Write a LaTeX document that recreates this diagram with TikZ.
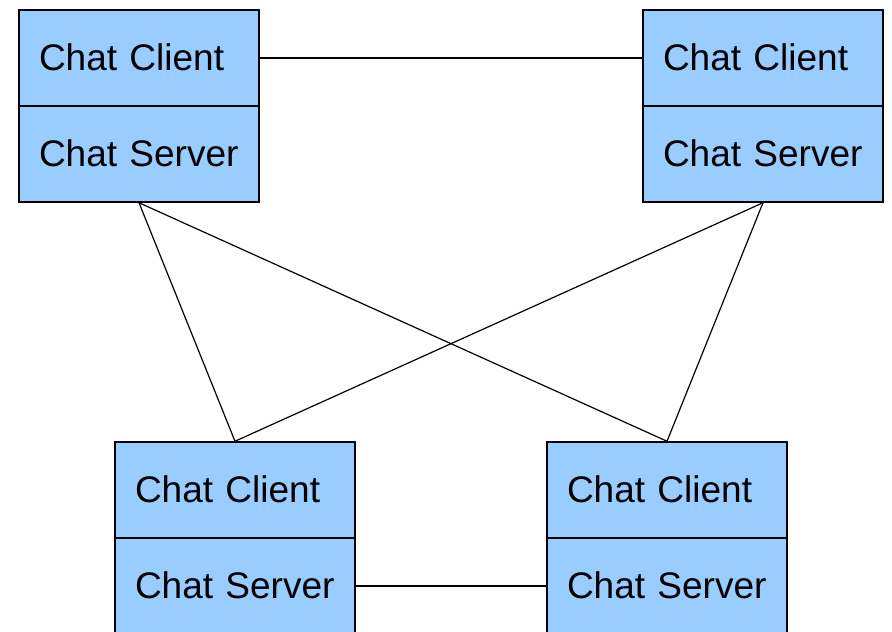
\documentclass[tikz,border=0pt]{standalone}
\usepackage{fontspec}
\setmainfont{Liberation Sans}
\usepackage{xcolor}
\usepackage{tikz}
\usetikzlibrary{positioning}
\definecolor{chatblue}{HTML}{99CCFF}

\begin{document}
\begin{tikzpicture}[x=1pt, y=1pt,
    part/.style={rectangle, draw, line width=1.5pt, fill=chatblue,
      minimum height=96pt, text width=200pt, inner xsep=20pt, inner ysep=0pt,
      align=left, text height=25.5pt, text depth=0pt,
      font=\fontsize{37}{40}\selectfont},
    link/.style={line width=1.2pt}]
  \useasboundingbox (0,0) rectangle (892,-632);
  \node[part] (tlc) at (139,-58) {Chat Client};
  \node[part, below=-1.5pt of tlc] (tls) {Chat Server};
  \node[part] (trc) at (763,-58) {Chat Client};
  \node[part, below=-1.5pt of trc] (trs) {Chat Server};
  \node[part] (blc) at (235,-490) {Chat Client};
  \node[part, below=-1.5pt of blc] (bls) {Chat Server};
  \node[part] (brc) at (667,-490) {Chat Client};
  \node[part, below=-1.5pt of brc] (brs) {Chat Server};
  \draw[link] (tlc) -- (trc);
  \draw[link] (tls.south) -- (blc.north);
  \draw[link] (tls.south) -- (brc.north);
  \draw[link] (trs.south) -- (blc.north);
  \draw[link] (trs.south) -- (brc.north);
  \draw[link] (bls) -- (brs);
\end{tikzpicture}
\end{document}
